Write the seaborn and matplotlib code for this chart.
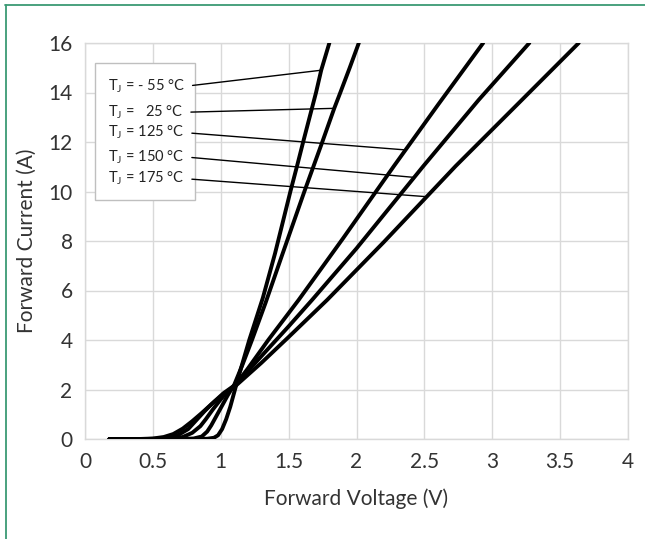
import numpy as np
import pandas as pd
import seaborn as sns
import matplotlib.pyplot as plt
from matplotlib.lines import Line2D
from matplotlib.patches import Rectangle

sns.set_theme(style="whitegrid")
plt.rcParams['font.family'] = ['Lato', 'DejaVu Sans']
plt.rcParams['mathtext.fontset'] = 'custom'
plt.rcParams['mathtext.rm'] = 'Lato'

# forward voltage (V) / forward current (A)
v_m55 = [0.18, 0.80, 0.90, 0.95, 0.98, 1.01, 1.04, 1.07, 1.10, 1.13, 1.17, 1.21, 1.26, 1.31,
         1.40, 1.513, 1.562, 1.607, 1.702, 1.74, 1.80]
i_m55 = [0, 0, 0.01, 0.05, 0.15, 0.4, 0.8, 1.3, 1.9, 2.5, 3.25, 4.0, 4.85, 5.7,
         7.5, 10.0, 11.03, 12.0, 14.0, 14.9, 16.0]

v_25 = [0.18, 0.70, 0.80, 0.86, 0.90, 0.93, 0.96, 1.00, 1.05, 1.10, 1.16, 1.23, 1.33, 1.45,
        1.616, 1.748, 1.836, 1.881, 1.95, 2.017]
i_25 = [0, 0, 0.02, 0.1, 0.3, 0.55, 0.85, 1.25, 1.75, 2.2, 3.0, 4.0, 5.5, 7.4,
        10.0, 12.0, 13.36, 14.0, 15.0, 16.0]

v_125 = [0.18, 0.55, 0.65, 0.72, 0.79, 0.85, 0.89, 0.94, 1.00, 1.05, 1.11, 1.20, 1.35, 1.574,
         1.90, 2.276, 2.60, 2.933]
i_125 = [0, 0, 0.02, 0.08, 0.25, 0.52, 0.8, 1.18, 1.6, 1.92, 2.2, 2.85, 4.0, 5.62,
         8.1, 11.03, 13.5, 16.0]

v_150 = [0.18, 0.45, 0.55, 0.62, 0.69, 0.76, 0.82, 0.88, 0.95, 1.02, 1.11, 1.30, 1.50, 1.673,
         2.00, 2.493, 2.90, 3.273]
i_150 = [0, 0, 0.015, 0.06, 0.17, 0.4, 0.76, 1.12, 1.5, 1.85, 2.2, 3.35, 4.55, 5.62,
         7.7, 11.03, 13.7, 16.0]

v_175 = [0.18, 0.40, 0.50, 0.58, 0.65, 0.72, 0.79, 0.86, 0.93, 1.00, 1.10, 1.30, 1.50, 1.784,
         2.20, 2.731, 3.20, 3.637]
i_175 = [0, 0, 0.02, 0.08, 0.2, 0.42, 0.72, 1.05, 1.4, 1.72, 2.1, 3.08, 4.12, 5.62,
         7.95, 11.03, 13.6, 16.0]

labels = ["T$_\\mathregular{J}$ = - 55 °C", "T$_\\mathregular{J}$ =   25 °C",
          "T$_\\mathregular{J}$ = 125 °C", "T$_\\mathregular{J}$ = 150 °C",
          "T$_\\mathregular{J}$ = 175 °C"]
label_y = [14.25, 13.2, 12.38, 11.4, 10.52]
leader_i = [14.9, 13.36, 11.68, 10.57, 9.79]

curves = [(v_m55, i_m55), (v_25, i_25), (v_125, i_125), (v_150, i_150), (v_175, i_175)]
df = pd.concat([pd.DataFrame({"V": v, "I": i, "Tj": lab})
                for (v, i), lab in zip(curves, labels)], ignore_index=True)

fig = plt.figure(figsize=(6.45, 5.39), dpi=100)
ax = fig.add_axes([85 / 645, 1 - 439 / 539, 543 / 645, 396 / 539])

sns.lineplot(data=df, x="V", y="I", hue="Tj", palette=["black"] * 5, sort=False,
             estimator=None, lw=2.8, legend=False, ax=ax, zorder=3)

ax.set_xlim(0, 4)
ax.set_ylim(0, 16)
ax.set_xticks(np.arange(0, 4.01, 0.5))
ax.set_xticklabels(["0", "0.5", "1", "1.5", "2", "2.5", "3", "3.5", "4"])
ax.set_yticks(np.arange(0, 16.1, 2))
ax.set_yticklabels([str(t) for t in range(0, 17, 2)])
ax.grid(True, color="#d9d9d9", lw=1)
for s in ax.spines.values():
    s.set_color("#d9d9d9")
    s.set_linewidth(1)
ax.tick_params(axis="both", length=0, labelsize=15, colors="#333333")
ax.tick_params(axis="x", pad=9)
ax.tick_params(axis="y", pad=9)
ax.set_xlabel("Forward Voltage (V)", fontsize=15, color="#333333")
ax.set_ylabel("Forward Current (A)", fontsize=15, color="#333333")
ax.xaxis.set_label_coords(0.5, -0.124)
ax.yaxis.set_label_coords(-0.088, 0.5)

# label box with leader lines
ax.add_patch(Rectangle((0.074, 9.66), 0.736, 5.52, facecolor="white",
                       edgecolor="#bfbfbf", lw=1, zorder=4))
for lab, ly, li, (v, i) in zip(labels, label_y, leader_i, curves):
    vx = np.interp(li, i, v)
    ax.annotate(lab, xy=(vx, li), xytext=(0.17, ly), fontsize=10.5, color="#222222",
                ha="left", va="center", zorder=5,
                arrowprops=dict(arrowstyle="-", color="black", lw=1,
                                relpos=(1, 0.5), shrinkA=3, shrinkB=0))

# green frame (top and left edges)
green = "#3a9a74"
fig.add_artist(Line2D([5 / 645, 1], [1 - 5 / 539] * 2, transform=fig.transFigure,
                      color=green, lw=1.3))
fig.add_artist(Line2D([6 / 645] * 2, [0, 1 - 5 / 539], transform=fig.transFigure,
                      color=green, lw=1.3))

fig.savefig("out.png", dpi=100)
